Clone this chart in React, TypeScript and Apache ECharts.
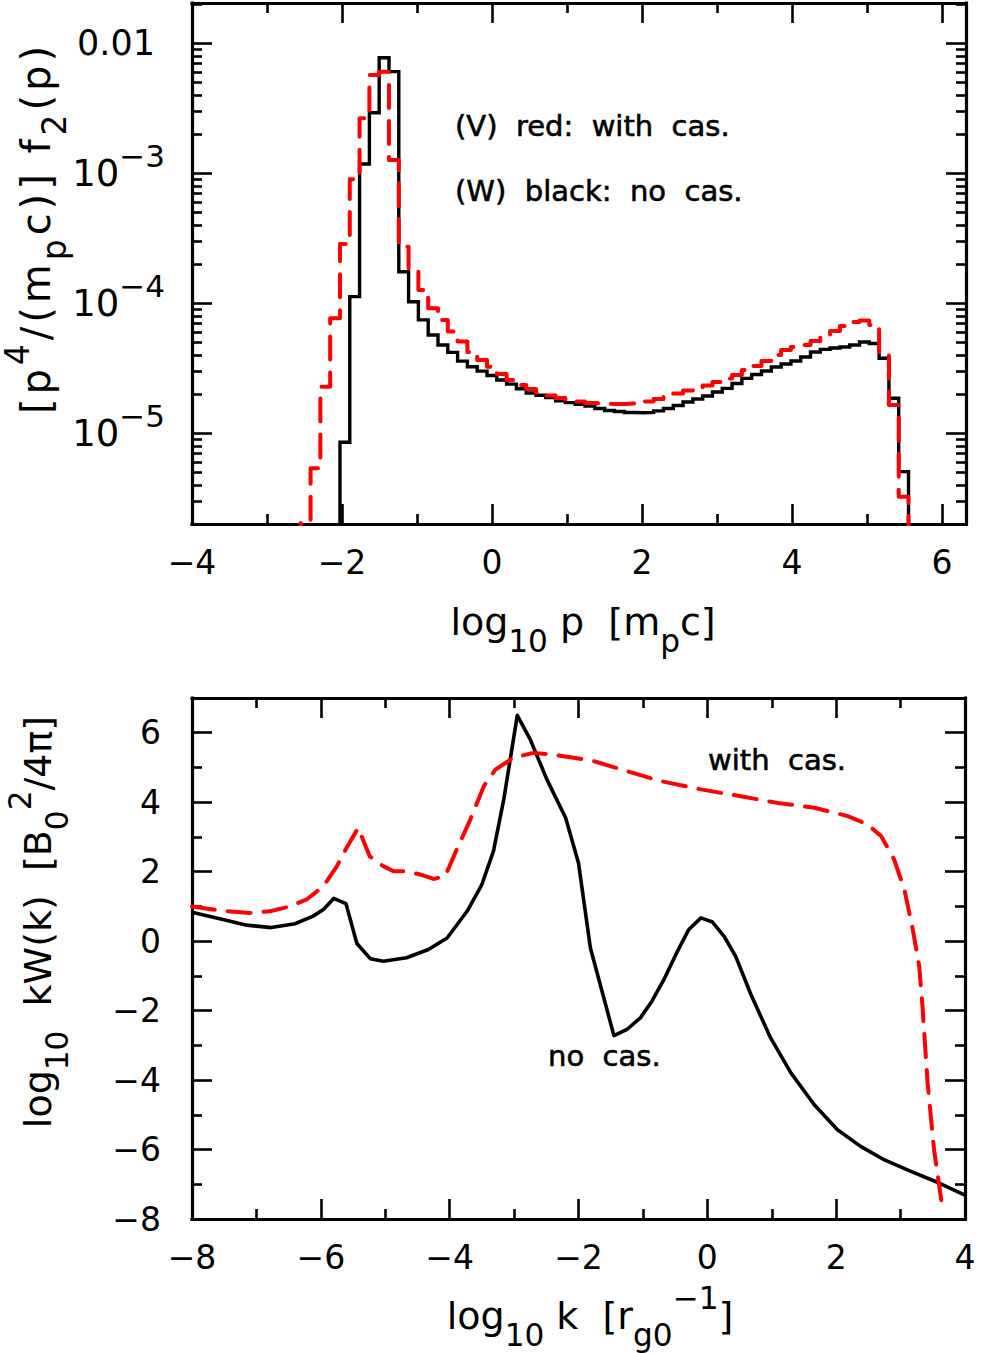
import React, { useEffect, useRef } from "react";
import * as echarts from "echarts";

const FONT = "'DejaVu Sans', 'Liberation Sans', sans-serif";

// ---------- Top panel: histogram of [p^4/(m_p c)] f2(p), log10 values ----------
const BIN_START = -2.027; // log10 p at left edge of bin 0
const BIN_WIDTH = 0.1307; // log10 p bin width
const BLACK_FIRST_BIN = 0;
const RED_FIRST_BIN = -4;

const blackLogF = [
  -5.069, -3.949, -2.928, -2.534, -2.111, -2.218, -3.757, -3.988, -4.128, -4.244,
  -4.321, -4.378, -4.445, -4.488, -4.522, -4.556, -4.59, -4.622, -4.658, -4.69,
  -4.708, -4.726, -4.75, -4.764, -4.778, -4.79, -4.809, -4.825, -4.832, -4.84,
  -4.842, -4.84, -4.828, -4.809, -4.786, -4.759, -4.736, -4.713, -4.682, -4.655,
  -4.617, -4.578, -4.548, -4.521, -4.49, -4.467, -4.444, -4.413, -4.375, -4.355,
  -4.344, -4.336, -4.321, -4.298, -4.309, -4.423, -4.731, -5.295,
];

const redLogF = [
  -5.69, -5.269, -4.642, -4.115, -3.544, -3.046, -2.577, -2.244, -2.218, -2.898,
  -3.565, -3.744, -3.897, -4.038, -4.128, -4.218, -4.295, -4.375, -4.436, -4.488,
  -4.544, -4.59, -4.628, -4.659, -4.686, -4.709, -4.728, -4.744, -4.755, -4.767,
  -4.771, -4.775, -4.775, -4.771, -4.763, -4.755, -4.736, -4.717, -4.694, -4.671,
  -4.652, -4.632, -4.605, -4.578, -4.552, -4.514, -4.482, -4.444, -4.398, -4.359,
  -4.336, -4.321, -4.29, -4.259, -4.213, -4.175, -4.144, -4.132, -4.167, -4.398,
  -4.782, -5.488,
];

const TOP_X_MIN = -4;
const TOP_X_MAX = 6.32;
const TOP_X_MAJOR = [-4, -2, 0, 2, 4, 6];
const TOP_X_MINOR = [-3, -1, 1, 3, 5];
const TOP_Y_MIN = -5.698;
const TOP_Y_MAX = -1.69;
const TOP_Y_DECADES = [-5, -4, -3, -2];
const TOP_Y_MINOR_DECADES = [-6, -5, -4, -3, -2];
const TOP_Y_MINOR_MANTISSAS = [2, 3, 4, 5, 6, 7, 8, 9];

// ---------- Bottom panel: log10 kW(k) ----------
const kNoCas = [
  -8, -7.52, -7.15, -6.77, -6.4, -6.12, -5.96, -5.8, -5.61, -5.44,
  -5.23, -5.03, -4.67, -4.33, -4.04, -3.73, -3.5, -3.32, -3.16, -2.95,
  -2.75, -2.49, -2.2, -2.0, -1.815, -1.45, -1.24, -1.04, -0.86, -0.675,
  -0.49, -0.29, -0.1, 0.08, 0.26, 0.44, 0.68, 0.98, 1.3, 1.66,
  2.02, 2.38, 2.75, 3.16, 3.58, 4.0,
];
const wNoCas = [
  0.83, 0.62, 0.46, 0.39, 0.5, 0.72, 0.91, 1.23, 1.08, -0.07,
  -0.51, -0.58, -0.48, -0.24, 0.09, 0.86, 1.63, 2.59, 4.08, 6.5,
  5.81, 4.65, 3.55, 2.25, -0.2, -2.72, -2.53, -2.21, -1.73, -1.11,
  -0.39, 0.33, 0.67, 0.55, 0.14, -0.44, -1.55, -2.78, -3.8, -4.71,
  -5.43, -5.91, -6.3, -6.63, -6.95, -7.31,
];
const kWithCas = [
  -8, -7.57, -7.1, -6.79, -6.48, -6.22, -5.96, -5.75, -5.6, -5.42,
  -5.24, -5.03, -4.87, -4.67, -4.46, -4.25, -4.07, -3.89, -3.68, -3.47,
  -3.29, -3.01, -2.7, -2.39, -2.0, -1.76, -1.24, -0.73, -0.1, 0.52,
  1.09, 1.66, 2.18, 2.49, 2.7, 2.9, 3.06, 3.19, 3.29, 3.34,
  3.42, 3.52, 3.65,
];
const wWithCas = [
  1.0, 0.88, 0.81, 0.86, 1.0, 1.2, 1.58, 2.16, 2.69, 3.26,
  2.44, 2.16, 2.01, 2.01, 1.92, 1.79, 1.87, 2.64, 3.5, 4.46,
  4.94, 5.28, 5.42, 5.37, 5.26, 5.18, 4.89, 4.61, 4.37, 4.17,
  3.98, 3.84, 3.6, 3.36, 3.02, 2.35, 1.48, 0.33, -0.73, -1.88,
  -4.09, -6.01, -7.69,
];

const BOT_X_MIN = -8;
const BOT_X_MAX = 4;
const BOT_X_MAJOR = [-8, -6, -4, -2, 0, 2, 4];
const BOT_X_MINOR = [-7, -5, -3, -1, 1, 3];
const BOT_Y_MIN = -8;
const BOT_Y_MAX = 7;
const BOT_Y_MAJOR = [-8, -6, -4, -2, 0, 2, 4, 6];
const BOT_Y_MINOR = [-7, -5, -3, -1, 1, 3, 5, 7];

// ---------- helpers ----------
const binEdge = (k: number) => BIN_START + k * BIN_WIDTH;

function stepPoints(firstBin: number, vals: number[], floor: number) {
  const pts: number[][] = [[binEdge(firstBin), floor]];
  vals.forEach((v, i) => pts.push([binEdge(firstBin + i), v]));
  pts.push([binEdge(firstBin + vals.length), floor]);
  return pts;
}

const minus = (v: number) => (v < 0 ? "\u2212" + Math.abs(v) : String(v));

const MAJOR_LEN = 20;
const MINOR_LEN = 10;
const TICK_W = 2.6;
const FRAME_W = 3.2;

function axis(o: any) {
  return {
    type: "value",
    gridIndex: o.grid,
    position: o.position,
    min: o.min,
    max: o.max,
    splitLine: { show: false },
    axisLine: {
      show: !!o.line,
      onZero: false,
      lineStyle: { color: "#000", width: FRAME_W, cap: "square" },
    },
    axisTick: {
      show: true,
      inside: true,
      length: o.len,
      customValues: o.ticks,
      lineStyle: { color: "#000", width: TICK_W },
    },
    axisLabel: o.labels
      ? {
          show: true,
          customValues: o.labels,
          color: "#000",
          fontFamily: FONT,
          fontSize: 33,
          margin: o.margin,
          formatter: o.formatter || ((v: number) => minus(v)),
          rich: o.rich,
        }
      : { show: false },
  };
}

function buildOption() {
  const topMinor: number[] = [];
  TOP_Y_MINOR_DECADES.forEach((d) =>
    TOP_Y_MINOR_MANTISSAS.forEach((m) => {
      const v = d + Math.log10(m);
      if (v > TOP_Y_MIN && v < TOP_Y_MAX) topMinor.push(v);
    })
  );

  const yRich = {
    n: { fontSize: 35, fontFamily: FONT, color: "#000", padding: [0, 10, 0, 0] },
    b: { fontSize: 37, fontFamily: FONT, color: "#000", lineHeight: 66, verticalAlign: "middle" },
    s: { fontSize: 31, fontFamily: FONT, color: "#000", lineHeight: 31, verticalAlign: "top" },
  };

  const xAxis = [
    axis({ grid: 0, position: "bottom", min: TOP_X_MIN, max: TOP_X_MAX, line: true, len: MAJOR_LEN, ticks: TOP_X_MAJOR, labels: TOP_X_MAJOR, margin: 22 }),
    axis({ grid: 0, position: "bottom", min: TOP_X_MIN, max: TOP_X_MAX, len: MINOR_LEN, ticks: TOP_X_MINOR }),
    axis({ grid: 0, position: "top", min: TOP_X_MIN, max: TOP_X_MAX, line: true, len: MAJOR_LEN, ticks: TOP_X_MAJOR }),
    axis({ grid: 0, position: "top", min: TOP_X_MIN, max: TOP_X_MAX, len: MINOR_LEN, ticks: TOP_X_MINOR }),
    axis({ grid: 1, position: "bottom", min: BOT_X_MIN, max: BOT_X_MAX, line: true, len: MAJOR_LEN, ticks: BOT_X_MAJOR, labels: BOT_X_MAJOR, margin: 22 }),
    axis({ grid: 1, position: "bottom", min: BOT_X_MIN, max: BOT_X_MAX, len: MINOR_LEN, ticks: BOT_X_MINOR }),
    axis({ grid: 1, position: "top", min: BOT_X_MIN, max: BOT_X_MAX, line: true, len: MAJOR_LEN, ticks: BOT_X_MAJOR }),
    axis({ grid: 1, position: "top", min: BOT_X_MIN, max: BOT_X_MAX, len: MINOR_LEN, ticks: BOT_X_MINOR }),
  ];
  const yAxis = [
    axis({
      grid: 0, position: "left", min: TOP_Y_MIN, max: TOP_Y_MAX, line: true, len: MAJOR_LEN,
      ticks: TOP_Y_DECADES, labels: TOP_Y_DECADES, margin: 27, rich: yRich,
      formatter: (v: number) => (Math.round(v) === -2 ? "{n|0.01}" : "{b|10}{s|\u2212" + Math.abs(Math.round(v)) + "}"),
    }),
    axis({ grid: 0, position: "left", min: TOP_Y_MIN, max: TOP_Y_MAX, len: MINOR_LEN, ticks: topMinor }),
    axis({ grid: 0, position: "right", min: TOP_Y_MIN, max: TOP_Y_MAX, line: true, len: MAJOR_LEN, ticks: TOP_Y_DECADES }),
    axis({ grid: 0, position: "right", min: TOP_Y_MIN, max: TOP_Y_MAX, len: MINOR_LEN, ticks: topMinor }),
    axis({ grid: 1, position: "left", min: BOT_Y_MIN, max: BOT_Y_MAX, line: true, len: MAJOR_LEN, ticks: BOT_Y_MAJOR, labels: BOT_Y_MAJOR, margin: 31 }),
    axis({ grid: 1, position: "left", min: BOT_Y_MIN, max: BOT_Y_MAX, len: MINOR_LEN, ticks: BOT_Y_MINOR }),
    axis({ grid: 1, position: "right", min: BOT_Y_MIN, max: BOT_Y_MAX, line: true, len: MAJOR_LEN, ticks: BOT_Y_MAJOR }),
    axis({ grid: 1, position: "right", min: BOT_Y_MIN, max: BOT_Y_MAX, len: MINOR_LEN, ticks: BOT_Y_MINOR }),
  ];

  const floor = TOP_Y_MIN - 1;
  const redDash = { color: "#ff0000", width: 4, type: [23, 13] as any, cap: "round", join: "round" };

  const series: any[] = [
    {
      type: "line", name: "no cas. (W)", xAxisIndex: 0, yAxisIndex: 0, step: "end",
      data: stepPoints(BLACK_FIRST_BIN, blackLogF, floor), showSymbol: false, symbol: "none",
      lineStyle: { color: "#000", width: 3.4, join: "miter" }, clip: true, z: 3,
    },
    {
      type: "line", name: "with cas. (V)", xAxisIndex: 0, yAxisIndex: 0, step: "end",
      data: stepPoints(RED_FIRST_BIN, redLogF, floor), showSymbol: false, symbol: "none",
      lineStyle: redDash, clip: true, z: 4,
    },
    {
      type: "line", name: "no cas.", xAxisIndex: 4, yAxisIndex: 4,
      data: kNoCas.map((k, i) => [k, wNoCas[i]]), showSymbol: false, symbol: "none",
      lineStyle: { color: "#000", width: 3.6, join: "round" }, clip: true, z: 3,
    },
    {
      type: "line", name: "with cas.", xAxisIndex: 4, yAxisIndex: 4,
      data: kWithCas.map((k, i) => [k, wWithCas[i]]), showSymbol: false, symbol: "none",
      lineStyle: redDash, clip: true, z: 4,
    },
  ];

  const titleRich = (fs: number, padX: number) => ({
    t: { fontSize: fs, fontFamily: FONT, fill: "#000", lineHeight: fs + 30, verticalAlign: "middle", padding: [0, padX] },
    sub: { fontSize: fs * 0.82, fontFamily: FONT, fill: "#000", lineHeight: fs * 0.82, verticalAlign: "bottom", padding: [0, padX] },
    sup: { fontSize: fs * 0.82, fontFamily: FONT, fill: "#000", lineHeight: fs * 0.82, verticalAlign: "top", padding: [0, padX] },
  });
  const plain = (text: string, x: number, y: number) => ({
    type: "text", x, y, silent: true,
    style: {
      text, fontFamily: FONT, fontSize: 29, fill: "#000", stroke: "#000", lineWidth: 0.6,
      align: "left", verticalAlign: "middle",
    },
  });
  const rich = (text: string, x: number, y: number, fs: number, padX: number, rot = 0) => ({
    type: "text", x, y, rotation: rot, silent: true,
    style: { text, rich: titleRich(fs, padX), fontFamily: FONT, fontSize: fs, fill: "#000", align: "center", verticalAlign: "middle" },
  });

  const graphic = [
    plain("(V)  red:  with  cas.", 455, 126),
    plain("(W)  black:  no  cas.", 455, 191),
    plain("with  cas.", 708, 760),
    plain("no  cas.", 548, 1056),
    rich("{t|log}{sub|10}{t| p  [m}{sub|p}{t|c]}", 583, 622, 38, 0),
    rich("{t|log}{sub|10}{t| k  [r}{sub|g0}{sup|\u22121}{t|]}", 590, 1316, 38, 0),
    rich(
      "{t|[}{t|p}{sup|4}{t|/}{t|(}{t|m}{sub|p}{t|c}{t|)}{t|]}{t| }{t|f}{sub|2}{t|(}{t|p}{t|)}",
      36, 230, 40, 2, Math.PI / 2
    ),
    rich("{t|log}{sub|10}{t|  kW(k)  [B}{sub|0}{sup|2}{t|/4\u03c0]}", 38, 922, 38, 0, Math.PI / 2),
  ];

  return {
    animation: false,
    backgroundColor: "#fff",
    grid: [
      { left: 192, top: 3, width: 774, height: 521, outerBoundsMode: "none", containLabel: false },
      { left: 192, top: 698, width: 773, height: 521, outerBoundsMode: "none", containLabel: false },
    ],
    xAxis,
    yAxis,
    series,
    graphic,
  };
}

export default function App() {
  const ref = useRef<HTMLDivElement>(null);
  useEffect(() => {
    if (!ref.current) return;
    const chart = echarts.init(ref.current, undefined, { renderer: "svg" });
    chart.setOption(buildOption() as any);
    return () => chart.dispose();
  }, []);
  return (
    <div
      ref={ref}
      style={{ position: "absolute", left: 0, top: 0, width: 981, height: 1353, background: "#fff" }}
    />
  );
}
